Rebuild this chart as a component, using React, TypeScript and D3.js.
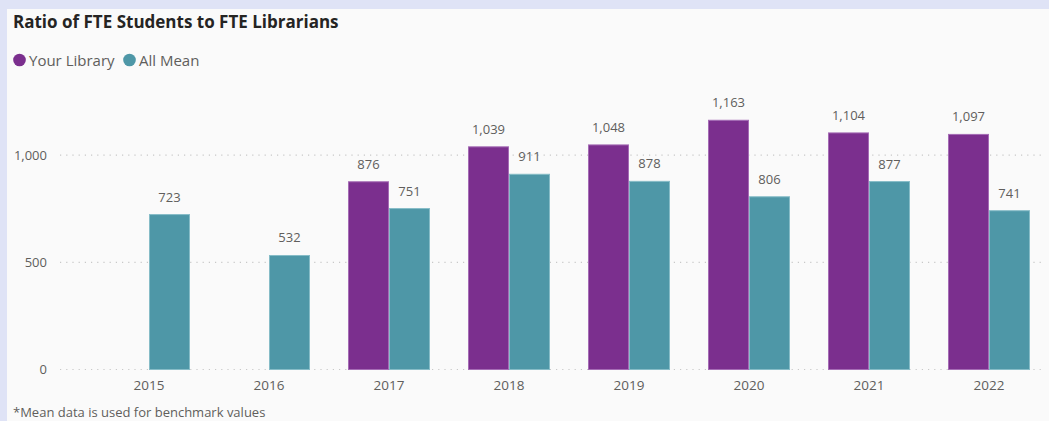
import React from "react";
import * as d3 from "d3";

const years = ["2015", "2016", "2017", "2018", "2019", "2020", "2021", "2022"];
const yourLibrary: (number | null)[] = [null, null, 876, 1039, 1048, 1163, 1104, 1097];
const allMean: number[] = [723, 532, 751, 911, 878, 806, 877, 741];
const yTicks = [0, 500, 1000];
const seriesKeys = ["Your Library", "All Mean"];
const seriesColors = ["#7B2F8E", "#4E97A7"];
const seriesStrokes = ["#a56cb5", "#86bcc7"];

const W = 1049;
const H = 421;
const FONT = "'Open Sans', 'Noto Sans', sans-serif";

export default function App() {
  const x = d3
    .scaleBand<string>()
    .domain(years)
    .range([89, 1049])
    .paddingInner(0.3167)
    .paddingOuter(0.3167 / 2);
  const xi = d3.scaleBand<string>().domain(seriesKeys).range([0, x.bandwidth()]);
  const y = d3.scaleLinear().domain([0, 1000]).range([369.5, 155.2]);
  const fmt = d3.format(",");

  const rows = years.map((yr, i) => ({ yr, vals: [yourLibrary[i], allMean[i]] }));

  return (
    <div style={{ position: "absolute", left: 0, top: 0, width: W, height: H }}>
      <svg width={W} height={H} style={{ display: "block" }}>
        <rect x={0} y={0} width={W} height={H} fill="#dfe3f6" />
        <rect x={7} y={9} width={W - 7} height={H - 9} fill="#fafafa" />
        <text x={13} y={28} fontFamily={FONT} fontWeight={700} fontSize={17} fill="#252423">
          Ratio of FTE Students to FTE Librarians
        </text>
        {seriesKeys.map((k, i) => {
          const lx = i === 0 ? 19.5 : 129.5;
          return (
            <g key={k}>
              <circle cx={lx} cy={60} r={6.3} fill={seriesColors[i]} />
              <text x={lx + 9.5} y={65.5} fontFamily={FONT} fontSize={15} fill="#605e5c">
                {k}
              </text>
            </g>
          );
        })}
        {yTicks.map((t) => (
          <g key={t}>
            <line
              x1={60}
              x2={1045}
              y1={y(t)}
              y2={y(t)}
              stroke="#c8c8c8"
              strokeWidth={1.2}
              strokeDasharray="1.2,5"
            />
            <text
              x={47}
              y={y(t)}
              dy="0.35em"
              textAnchor="end"
              fontFamily={FONT}
              fontSize={13}
              fill="#605e5c"
            >
              {fmt(t)}
            </text>
          </g>
        ))}
        {rows.map((r) => (
          <g key={r.yr} transform={`translate(${x(r.yr)},0)`}>
            {r.vals.map((v, si) =>
              v == null ? null : (
                <g key={si}>
                  <rect
                    x={(xi(seriesKeys[si]) as number) + 0.5}
                    y={y(v)}
                    width={xi.bandwidth() - 1}
                    height={y(0) - y(v)}
                    fill={seriesColors[si]}
                    stroke={seriesStrokes[si]}
                    strokeWidth={1}
                  />
                  <text
                    x={(xi(seriesKeys[si]) as number) + xi.bandwidth() / 2}
                    y={y(v) - 13}
                    textAnchor="middle"
                    fontFamily={FONT}
                    fontSize={13}
                    fill="#605e5c"
                  >
                    {fmt(v)}
                  </text>
                </g>
              )
            )}
            <text
              x={x.bandwidth() / 2}
              y={390}
              textAnchor="middle"
              fontFamily={FONT}
              fontSize={13.5}
              fill="#605e5c"
            >
              {r.yr}
            </text>
          </g>
        ))}
        <text x={13} y={417} fontFamily={FONT} fontSize={13} fill="#605e5c">
          *Mean data is used for benchmark values
        </text>
      </svg>
    </div>
  );
}
